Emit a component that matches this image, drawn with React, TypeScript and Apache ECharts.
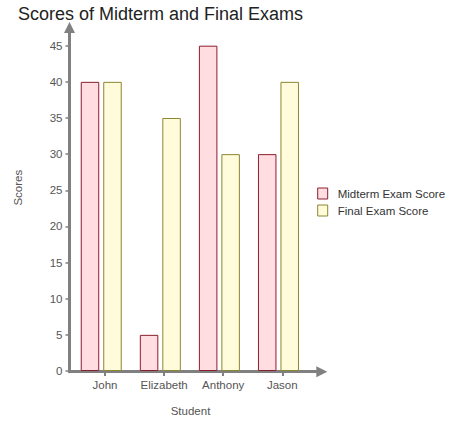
import React, { useEffect, useRef } from "react";
import * as echarts from "echarts";

const categories = ["John", "Elizabeth", "Anthony", "Jason"];
const midtermScores = [40, 5, 45, 30];
const finalScores = [40, 35, 30, 40];
const spacerValues = [0, 0, 0, 0];
const seriesNames = ["Midterm Exam Score", "Final Exam Score"];

const FONT = "'Liberation Sans', Arial, sans-serif";
const AXIS_GRAY = "#808080";
const LABEL_GRAY = "#555";

export default function App() {
  const ref = useRef<HTMLDivElement>(null);
  useEffect(() => {
    if (!ref.current) return;
    const chart = echarts.init(ref.current, undefined, { renderer: "svg" });
    const arrowLine = {
      show: true,
      symbol: ["none", "triangle"],
      symbolSize: [11, 11],
      lineStyle: { color: AXIS_GRAY, width: 3 },
    };
    chart.setOption({
      animation: false,
      textStyle: { fontFamily: FONT },
      title: {
        text: "Scores of Midterm and Final Exams",
        left: 18,
        top: 5,
        padding: 0,
        textStyle: { fontSize: 18, fontWeight: "normal", color: "#222", fontFamily: FONT },
      },
      legend: {
        orient: "vertical",
        left: 317.2,
        top: 187.5,
        padding: 0,
        itemWidth: 10,
        itemHeight: 11,
        itemGap: 5,
        icon: "rect",
        itemStyle: { borderWidth: 1 },
        data: seriesNames,
        textStyle: { fontSize: 11.5, color: "#333", fontFamily: FONT, padding: [0, 0, 0, 5] },
      },
      grid: [
        { left: 75.5, right: 138.2, top: 45.7, bottom: 50.3 },
        { left: 69.5, right: 128.2, top: 27.5, bottom: 50.3 },
      ],
      xAxis: [
        {
          gridIndex: 0,
          type: "category",
          data: categories,
          axisLine: { show: false },
          axisTick: { show: true, alignWithLabel: true, interval: 0, length: 5, lineStyle: { color: AXIS_GRAY, width: 2 } },
          axisLabel: { interval: 0, fontSize: 11.5, color: LABEL_GRAY, margin: 8, fontFamily: FONT },
          splitLine: { show: false },
          name: "Student",
          nameLocation: "middle",
          nameGap: 34,
          nameTextStyle: { fontSize: 11.5, color: LABEL_GRAY, fontFamily: FONT, padding: [0, 6.3, 0, 0] },
        },
        {
          gridIndex: 1,
          type: "value",
          min: 0,
          max: 1,
          axisLine: arrowLine,
          axisTick: { show: false },
          axisLabel: { show: false },
          splitLine: { show: false },
        },
      ],
      yAxis: [
        {
          gridIndex: 0,
          type: "value",
          min: 0,
          max: 45,
          interval: 5,
          offset: 6,
          axisLine: { show: false },
          axisTick: { show: true, length: 4, lineStyle: { color: AXIS_GRAY, width: 1.5 } },
          axisLabel: { fontSize: 11.5, color: LABEL_GRAY, margin: 7, fontFamily: FONT },
          splitLine: { show: false },
          name: "Scores",
          nameLocation: "middle",
          nameGap: 46,
          nameTextStyle: { fontSize: 11.5, color: LABEL_GRAY, fontFamily: FONT, padding: [0, 0, 0, 41.4] },
        },
        {
          gridIndex: 1,
          type: "value",
          min: 0,
          max: 1,
          axisLine: arrowLine,
          axisTick: { show: false },
          axisLabel: { show: false },
          splitLine: { show: false },
        },
      ],
      series: [
        {
          name: seriesNames[0],
          type: "bar",
          xAxisIndex: 0,
          yAxisIndex: 0,
          data: midtermScores,
          barWidth: 18.5,
          barGap: "21.6%",
          itemStyle: { color: "#ffdde1", borderColor: "#8b1e2e", borderWidth: 1 },
        },
        {
          name: seriesNames[1],
          type: "bar",
          xAxisIndex: 0,
          yAxisIndex: 0,
          data: finalScores,
          barWidth: 18.5,
          barGap: "21.6%",
          itemStyle: { color: "#fffbdb", borderColor: "#8b8631", borderWidth: 1 },
        },
        {
          name: "spacer",
          type: "bar",
          xAxisIndex: 0,
          yAxisIndex: 0,
          data: spacerValues,
          barWidth: 3.6,
          barGap: "21.6%",
          silent: true,
          itemStyle: { color: "transparent", borderWidth: 0 },
        },
      ],
    });
    return () => chart.dispose();
  }, []);
  return <div ref={ref} style={{ width: 450, height: 422, position: "absolute", left: 0, top: 0 }} />;
}
